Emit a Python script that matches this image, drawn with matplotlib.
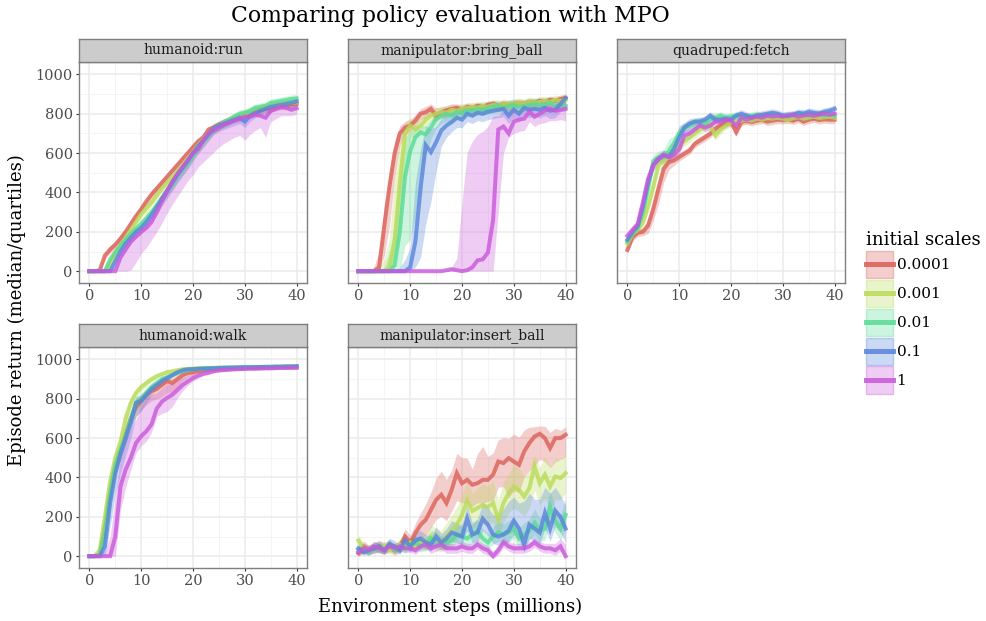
import colorsys
import matplotlib
matplotlib.use("Agg")
import matplotlib.pyplot as plt
from matplotlib.lines import Line2D
from matplotlib.patches import Rectangle
from matplotlib.legend_handler import HandlerBase
from matplotlib.ticker import MultipleLocator
import numpy as np

plt.rcParams['font.family'] = ['DejaVu Serif']

# environment steps (millions)
steps = list(range(41))
scales = ["0.0001", "0.001", "0.01", "0.1", "1"]
tasks = ["humanoid:run", "manipulator:bring_ball", "quadruped:fetch",
         "humanoid:walk", "manipulator:insert_ball"]

# ---- humanoid:run (median, distance to lower quartile, distance to upper quartile)
run_s4 = [0,0,5,80,110,135,165,200,240,280,315,355,390,420,450,480,510,540,570,600,630,660,680,720,730,745,755,765,775,785,795,800,810,820,825,830,835,840,845,848,850]
run_s4_dn = [0,0,5,20,20,25,20,20,25,20,20,25,20,20,25,20,20,25,20,20,25,20,20,25,20,20,25,20,20,25,20,20,25,20,20,25,20,20,25,20,20]
run_s4_up = [0,0,10,15,20,15,20,15,20,15,20,15,20,15,20,15,20,15,20,15,20,15,20,15,20,15,20,15,20,15,20,15,20,15,20,15,20,15,20,15,20]
run_s3 = [0,0,0,0,40,90,130,170,210,250,290,320,350,385,420,450,480,510,540,575,605,640,670,700,720,740,755,765,780,790,800,810,820,830,835,840,845,850,852,855,858]
run_s3_dn = [0,0,0,0,30,25,20,25,20,25,20,25,20,25,20,25,20,25,20,25,20,25,20,25,20,25,20,25,20,25,20,25,20,25,20,25,20,25,20,25,20]
run_s3_up = [0,0,0,10,20,20,20,20,20,20,20,20,20,20,20,20,20,20,20,20,20,20,20,20,20,20,20,20,20,20,20,20,20,20,20,20,20,20,20,20,20]
run_s2 = [0,0,0,0,60,95,130,160,190,215,240,270,300,335,370,405,440,480,515,550,585,625,660,690,720,740,755,770,785,800,805,815,830,835,840,855,860,865,870,875,878]
run_s2_dn = [0,0,0,0,40,30,25,25,20,25,25,30,30,30,30,30,30,30,30,30,30,30,30,30,25,25,25,25,20,25,20,20,20,20,20,20,20,20,20,20,20]
run_s2_up = [0,0,0,20,20,20,20,20,20,20,20,20,20,20,20,20,20,20,20,20,20,20,20,20,20,20,20,20,20,20,20,20,20,20,20,20,20,20,20,20,20]
run_s1 = [0,0,0,0,0,50,100,140,170,200,220,250,285,325,370,410,450,490,525,560,600,635,665,695,725,740,750,760,770,780,760,790,805,815,825,835,840,845,850,855,862]
run_s1_dn = [0,0,0,0,0,40,40,35,30,30,30,30,30,40,40,40,40,40,40,40,35,35,35,30,30,30,30,30,30,30,30,30,25,25,25,25,20,20,20,20,20]
run_s1_up = [0,0,0,0,20,20,20,20,20,20,20,25,25,25,25,25,25,25,25,25,25,25,25,25,25,25,25,25,25,25,40,25,20,20,20,20,20,20,20,20,20]
run_s0 = [0,0,0,0,0,0,70,110,150,175,200,220,250,300,355,405,455,495,530,565,600,620,665,700,715,730,745,755,765,775,785,785,795,790,780,815,825,835,830,820,828]
run_s0_dn = [0,0,0,0,0,0,70,110,145,130,110,100,90,100,110,110,115,115,110,105,110,90,110,120,110,100,95,90,85,85,120,90,80,60,100,55,50,45,40,30,30]
run_s0_up = [0,0,0,0,0,0,10,15,20,20,20,25,25,25,25,25,25,25,25,25,25,30,25,25,25,25,25,25,25,30,30,30,30,30,40,30,30,25,25,30,30]

# ---- manipulator:bring_ball
ball_s4 = [0,0,0,0,20,230,430,600,700,730,740,765,800,808,825,790,808,818,825,830,820,835,830,840,835,845,850,840,850,845,850,855,850,860,855,865,860,870,865,875,880]
ball_s4_dn = [0,0,0,0,20,150,200,120,60,40,30,30,30,30,30,30,30,30,30,30,25,25,25,25,25,25,25,25,25,25,25,25,25,25,25,25,25,25,25,25,25]
ball_s4_up = [0,0,0,20,80,100,80,60,40,30,30,30,25,30,25,40,25,25,25,20,25,20,20,20,20,20,20,20,20,20,20,20,20,20,20,20,20,20,20,20,20]
ball_s3 = [0,0,0,0,0,0,20,150,450,700,740,720,740,770,790,800,810,805,820,815,825,830,835,830,840,835,845,840,850,845,850,855,850,860,855,860,865,860,870,865,870]
ball_s3_dn = [0,0,0,0,0,0,20,100,250,200,60,40,40,40,30,30,30,30,30,30,30,30,30,30,30,30,30,30,30,30,30,30,30,30,30,30,30,30,30,30,30]
ball_s3_up = [0,0,0,0,20,60,150,350,200,60,40,40,40,30,30,30,30,30,30,30,25,25,25,25,25,25,25,25,25,25,25,25,25,25,25,25,25,25,25,25,25]
ball_s2 = [0,0,0,0,0,0,0,30,200,480,610,680,705,695,730,775,790,800,790,810,805,820,815,825,820,830,835,840,830,840,845,835,840,845,850,845,850,855,840,845,840]
ball_s2_dn = [0,0,0,0,0,0,0,30,200,350,450,400,200,100,60,50,40,40,40,40,30,30,30,30,30,30,30,30,30,30,30,30,30,30,30,30,30,30,30,30,30]
ball_s2_up = [0,0,0,0,0,20,100,200,300,200,100,60,40,40,40,30,30,30,30,30,30,30,30,30,30,30,30,30,30,30,30,30,30,30,30,30,30,30,30,30,30]
ball_s1 = [0,0,0,0,0,0,0,0,0,0,20,150,420,640,605,655,715,740,758,780,770,800,790,805,800,810,815,820,825,790,820,800,830,820,825,820,830,815,820,850,880]
ball_s1_dn = [0,0,0,0,0,0,0,0,0,0,20,130,350,400,250,150,80,60,50,50,40,40,40,40,40,40,40,40,40,40,40,40,40,40,40,40,40,40,40,40,40]
ball_s1_up = [0,0,0,0,0,0,0,0,20,60,100,300,200,100,120,80,60,80,50,40,40,30,30,30,30,30,30,30,30,40,30,40,30,30,30,30,30,30,30,30,20]
ball_s0 = [0,0,0,0,0,0,0,0,0,0,0,0,0,0,0,0,0,5,10,5,0,5,20,55,60,95,260,720,735,700,760,770,775,810,785,800,815,825,815,820,825]
ball_s0_dn = [0,0,0,0,0,0,0,0,0,0,0,0,0,0,0,0,0,5,10,5,0,5,20,55,60,95,260,420,135,20,60,60,60,50,50,50,60,60,50,50,60]
ball_s0_up = [0,0,0,0,0,0,0,0,0,0,0,0,0,0,0,0,0,0,10,60,350,600,640,640,650,640,530,70,80,120,60,50,50,30,40,40,30,30,30,30,30]

# ---- quadruped:fetch
fetch_s4 = [108,173,195,200,232,317,420,520,554,563,580,597,613,647,664,681,698,724,740,749,758,707,758,766,758,765,770,760,765,770,768,772,765,775,760,770,775,768,772,770,770]
fetch_s4_dn = [20,20,20,20,40,60,80,70,40,25,20,20,20,20,20,20,20,20,20,20,20,20,20,20,20,20,20,20,20,20,20,20,20,20,20,20,20,20,20,20,20]
fetch_s4_up = [20,20,20,20,30,40,40,40,30,25,20,20,20,20,20,20,20,20,20,20,20,20,20,20,20,20,20,20,20,20,20,20,20,20,20,20,20,20,20,20,20]
fetch_s3 = [140,190,210,250,330,430,540,560,580,610,640,660,680,700,720,735,740,690,720,740,755,760,765,770,765,775,770,778,775,780,775,770,778,782,775,780,785,778,782,785,780]
fetch_s3_dn = [20,20,20,30,30,40,30,30,30,25,25,25,25,25,25,25,25,25,25,20,20,20,20,20,20,20,20,20,20,20,20,20,20,20,20,20,20,20,20,20,20]
fetch_s3_up = [20,20,20,30,30,30,30,30,30,25,25,25,25,25,25,25,25,25,25,20,20,20,20,20,20,20,20,20,20,20,20,20,20,20,20,20,20,20,20,20,20]
fetch_s2 = [150,190,220,300,420,560,580,580,610,650,700,730,740,750,760,750,770,780,790,780,785,790,780,785,790,795,785,790,795,790,785,795,790,795,800,790,795,800,790,795,790]
fetch_s2_dn = [20,20,20,30,30,30,30,30,30,30,30,25,25,25,25,25,25,25,20,20,20,20,20,20,20,20,20,20,20,20,20,20,20,20,20,20,20,20,20,20,20]
fetch_s2_up = [20,20,20,30,30,30,30,40,60,40,30,25,25,25,25,25,25,25,20,20,20,20,20,20,20,20,20,20,20,20,20,20,20,20,20,20,20,20,20,20,20]
fetch_s1 = [160,200,230,330,450,540,570,590,580,620,680,730,750,760,760,770,790,770,770,775,770,790,800,790,780,790,795,800,805,800,790,790,795,805,800,810,805,800,810,815,825]
fetch_s1_dn = [20,20,20,30,30,30,25,25,25,30,30,25,25,20,20,20,20,20,20,20,20,20,20,20,20,20,20,20,20,20,20,20,20,20,20,20,20,20,20,20,20]
fetch_s1_up = [20,20,20,30,30,30,25,25,25,40,60,25,25,20,20,20,20,20,20,20,20,20,20,20,20,20,20,20,20,20,20,20,20,20,20,20,20,20,20,20,20]
fetch_s0 = [180,210,240,350,470,540,570,590,580,590,620,690,700,720,740,730,740,760,760,770,765,740,780,770,780,785,780,790,785,790,785,790,795,785,790,795,790,795,800,795,800]
fetch_s0_dn = [20,20,20,30,30,30,25,25,25,25,30,25,25,20,20,20,20,20,20,20,20,20,20,20,20,20,20,20,20,20,20,20,20,20,20,20,20,20,20,20,20]
fetch_s0_up = [20,20,20,30,30,30,25,25,25,25,30,25,25,20,20,20,20,20,20,20,20,20,20,20,20,20,20,20,20,20,20,20,20,20,20,20,20,20,20,20,20]

# ---- humanoid:walk
walk_s4 = [0,0,10,150,330,460,540,620,700,760,790,820,840,850,870,890,880,900,920,930,935,940,945,948,950,952,953,954,955,955,956,957,957,958,958,959,959,960,960,960,960]
walk_s4_dn = [0,0,10,60,60,50,50,50,50,50,50,50,50,50,60,60,50,40,30,20,15,10,10,10,10,8,8,8,8,8,8,8,8,8,8,8,8,8,8,8,8]
walk_s4_up = [0,0,10,40,40,40,40,40,40,30,30,30,30,30,25,20,25,20,15,12,10,10,8,8,8,8,8,8,8,8,8,8,8,8,8,8,8,8,8,8,8]
walk_s3 = [0,0,30,200,380,500,580,700,780,830,860,880,900,915,925,935,940,945,950,952,954,955,956,957,957,958,958,959,959,960,960,960,961,961,961,962,962,962,963,963,963]
walk_s3_dn = [0,0,30,60,50,40,40,40,30,25,20,20,15,15,12,10,10,8,8,8,8,8,8,8,8,8,8,8,8,8,8,8,8,8,8,8,8,8,8,8,8]
walk_s3_up = [0,0,30,50,40,40,40,30,25,20,15,15,12,10,10,8,8,8,8,8,8,8,8,8,8,8,8,8,8,8,8,8,8,8,8,8,8,8,8,8,8]
walk_s2 = [0,0,5,120,320,460,540,610,700,780,800,830,860,880,900,910,920,930,940,945,950,952,954,955,956,957,958,958,959,960,960,961,961,962,962,962,963,963,964,964,965]
walk_s2_dn = [0,0,5,60,60,50,40,40,40,40,30,30,25,20,15,12,10,10,8,8,8,8,8,8,8,8,8,8,8,8,8,8,8,8,8,8,8,8,8,8,8]
walk_s2_up = [0,0,20,60,50,40,40,40,40,30,30,25,20,15,12,10,10,8,8,8,8,8,8,8,8,8,8,8,8,8,8,8,8,8,8,8,8,8,8,8,8]
walk_s1 = [0,0,0,50,270,420,520,600,680,780,790,820,850,870,890,905,920,935,945,950,950,952,953,954,955,956,957,958,958,959,960,960,961,961,962,962,963,963,964,964,965]
walk_s1_dn = [0,0,0,50,120,110,100,90,80,70,50,40,30,25,20,15,12,10,8,8,8,8,8,8,8,8,8,8,8,8,8,8,8,8,8,8,8,8,8,8,8]
walk_s1_up = [0,0,10,60,60,50,40,40,40,30,30,25,20,15,12,10,10,8,8,8,8,8,8,8,8,8,8,8,8,8,8,8,8,8,8,8,8,8,8,8,8]
walk_s0 = [0,0,0,0,0,100,354,440,500,575,610,635,670,750,785,805,820,845,870,888,905,917,927,933,940,944,946,948,950,951,952,953,953,954,955,955,956,957,957,958,958]
walk_s0_dn = [0,0,0,0,0,100,120,90,60,50,50,50,40,40,60,70,60,40,30,20,15,12,10,10,8,8,8,8,8,8,8,8,8,8,8,8,8,8,8,8,8]
walk_s0_up = [0,0,0,30,100,200,150,150,150,120,150,170,150,80,70,70,60,50,40,30,25,20,15,12,10,10,8,8,8,8,8,8,8,8,8,8,8,8,8,8,8]

# ---- manipulator:insert_ball
ins_s4 = [15,49,32,40,49,40,52,29,49,100,66,117,159,185,235,286,312,270,337,422,371,388,363,371,388,388,414,481,473,498,481,464,532,575,608,622,600,549,600,600,617]
ins_s4_dn = [20,30,25,25,30,30,30,25,30,50,40,60,70,80,90,100,110,90,110,140,100,120,110,100,120,110,130,130,120,200,150,140,130,140,150,130,120,100,120,110,110]
ins_s4_up = [20,30,25,25,30,30,30,25,30,40,40,50,60,80,90,110,120,120,100,100,130,110,80,150,170,120,110,110,130,100,140,140,110,80,50,40,60,80,50,40,40]
ins_s3 = [80,40,30,50,40,50,30,40,60,50,70,50,70,60,100,80,70,100,130,160,210,280,230,245,260,250,270,185,270,320,354,337,303,346,456,371,414,354,405,397,422]
ins_s3_dn = [30,25,20,25,25,25,20,25,30,30,30,30,35,35,50,50,50,60,70,80,90,90,90,90,100,90,100,90,100,100,110,110,100,100,120,110,120,110,120,110,100]
ins_s3_up = [30,25,20,25,25,25,20,25,30,30,30,30,35,40,60,60,60,70,80,90,100,100,90,100,110,100,120,100,110,100,110,110,100,90,60,80,90,100,90,90,100]
ins_s2 = [30,40,20,50,40,30,60,30,50,40,60,70,50,60,90,80,60,70,80,110,100,90,110,130,90,70,100,120,110,120,140,90,110,130,170,130,140,250,180,140,210]
ins_s2_dn = [20,25,20,25,25,20,25,20,25,25,30,30,30,30,35,35,30,35,35,40,40,40,45,45,40,35,40,45,45,50,50,45,50,50,60,55,60,70,60,60,70]
ins_s2_up = [25,25,25,25,25,25,30,25,30,30,30,35,35,35,40,45,40,45,45,50,50,50,55,55,50,45,50,55,55,60,60,55,60,60,70,65,70,80,70,70,80]
ins_s1 = [40,20,30,40,50,30,60,50,30,80,50,80,90,70,60,100,70,90,120,110,100,190,110,120,190,160,110,100,110,130,180,140,60,160,140,120,220,140,230,200,140]
ins_s1_dn = [20,15,20,25,25,20,25,25,20,30,30,35,35,35,35,40,35,40,45,45,40,60,45,45,60,55,45,45,50,55,70,60,40,70,65,60,80,65,80,80,70]
ins_s1_up = [25,20,25,25,30,25,30,30,25,35,40,40,40,40,40,50,45,50,60,60,60,70,60,70,80,90,100,110,130,150,120,130,220,160,150,170,130,180,120,110,120]
ins_s0 = [20,40,30,50,40,30,50,40,50,40,40,30,50,60,40,50,60,40,40,40,50,40,40,60,40,30,0,30,70,50,40,40,40,50,70,50,40,40,30,50,0]
ins_s0_dn = [15,20,20,20,20,20,20,20,20,20,20,20,20,20,25,25,25,25,25,25,25,25,25,25,25,25,10,25,25,25,25,25,25,25,25,25,25,25,25,25,10]
ins_s0_up = [20,25,25,25,25,25,25,25,25,25,25,25,25,25,25,25,25,25,25,25,25,25,25,25,25,25,25,25,25,25,25,25,25,25,25,25,25,25,35,40,60]

panel_data = {
    "humanoid:run": [(run_s4, run_s4_dn, run_s4_up), (run_s3, run_s3_dn, run_s3_up),
                     (run_s2, run_s2_dn, run_s2_up), (run_s1, run_s1_dn, run_s1_up),
                     (run_s0, run_s0_dn, run_s0_up)],
    "manipulator:bring_ball": [(ball_s4, ball_s4_dn, ball_s4_up), (ball_s3, ball_s3_dn, ball_s3_up),
                               (ball_s2, ball_s2_dn, ball_s2_up), (ball_s1, ball_s1_dn, ball_s1_up),
                               (ball_s0, ball_s0_dn, ball_s0_up)],
    "quadruped:fetch": [(fetch_s4, fetch_s4_dn, fetch_s4_up), (fetch_s3, fetch_s3_dn, fetch_s3_up),
                        (fetch_s2, fetch_s2_dn, fetch_s2_up), (fetch_s1, fetch_s1_dn, fetch_s1_up),
                        (fetch_s0, fetch_s0_dn, fetch_s0_up)],
    "humanoid:walk": [(walk_s4, walk_s4_dn, walk_s4_up), (walk_s3, walk_s3_dn, walk_s3_up),
                      (walk_s2, walk_s2_dn, walk_s2_up), (walk_s1, walk_s1_dn, walk_s1_up),
                      (walk_s0, walk_s0_dn, walk_s0_up)],
    "manipulator:insert_ball": [(ins_s4, ins_s4_dn, ins_s4_up), (ins_s3, ins_s3_dn, ins_s3_up),
                                (ins_s2, ins_s2_dn, ins_s2_up), (ins_s1, ins_s1_dn, ins_s1_up),
                                (ins_s0, ins_s0_dn, ins_s0_up)],
}

# ggplot-like hue palette
colors = [colorsys.hls_to_rgb(0.01 + i / 5.0, 0.6, 0.65) for i in range(5)]


class RibbonKey:
    """legend key: ribbon square with the median line through the middle"""
    def __init__(self, color):
        self.color = color


class RibbonKeyHandler(HandlerBase):
    def create_artists(self, legend, orig_handle, xdescent, ydescent,
                       width, height, fontsize, trans):
        col = orig_handle.color
        rect = Rectangle((-xdescent, -ydescent), width, height,
                         facecolor=(*col, 0.3), edgecolor=(*col, 0.35),
                         lw=1.0, transform=trans)
        yc = -ydescent + height / 2
        line = Line2D([-xdescent, -xdescent + width], [yc, yc], color=col,
                      lw=3.6, alpha=0.85, transform=trans)
        return [rect, line]


W, H = 987, 621
fig = plt.figure(figsize=(W / 100, H / 100), dpi=100)

col_left = [79, 348, 617]
row_top = [62, 347]
pw, ph, sh = 228, 221, 23
spine_col = "#7f7f7f"

x = np.array(steps)
for k, task in enumerate(tasks):
    r, c = divmod(k, 3)
    l, t = col_left[c], row_top[r]
    ax = fig.add_axes([l / W, 1 - (t + ph) / H, pw / W, ph / H])
    sax = fig.add_axes([l / W, 1 - t / H, pw / W, sh / H])

    # ribbons first, then lines (like ggplot layers)
    for i, (med, dn, up) in enumerate(panel_data[task]):
        med = np.array(med, dtype=float)
        ax.fill_between(x, med - np.array(dn), med + np.array(up),
                        color=colors[i], alpha=0.3, lw=0)
    for i, (med, dn, up) in enumerate(panel_data[task]):
        ax.plot(x, med, color=colors[i], lw=2.9, alpha=0.8, solid_joinstyle="miter")

    ax.set_xlim(-2, 42)
    ax.set_ylim(-60, 1063)
    ax.xaxis.set_major_locator(MultipleLocator(10))
    ax.xaxis.set_minor_locator(MultipleLocator(5))
    ax.yaxis.set_major_locator(MultipleLocator(200))
    ax.yaxis.set_minor_locator(MultipleLocator(100))
    ax.grid(True, which="major", color="#ebebeb", lw=1.1)
    ax.grid(True, which="minor", color="#f2f2f2", lw=0.6)
    ax.set_axisbelow(True)
    ax.tick_params(which="major", length=2.5, width=0.8, color="#333333",
                   labelsize=10.5, labelcolor="#4d4d4d", pad=2)
    ax.tick_params(which="minor", length=0)
    if c != 0:
        ax.tick_params(axis="y", labelleft=False, length=0)
    for sp in ax.spines.values():
        sp.set_color(spine_col)
        sp.set_linewidth(1.0)

    sax.set_facecolor("#cccccc")
    sax.set_xticks([])
    sax.set_yticks([])
    for sp in sax.spines.values():
        sp.set_color(spine_col)
        sp.set_linewidth(1.0)
    sax.text(0.5, 0.5, task, ha="center", va="center", fontsize=10,
             color="#1a1a1a", transform=sax.transAxes)

fig.text(450 / W, 1 - 16 / H, "Comparing policy evaluation with MPO",
         ha="center", va="center", fontsize=15.8)
fig.text(450 / W, 1 - 607 / H, "Environment steps (millions)",
         ha="center", va="center", fontsize=13)
fig.text(17 / W, 1 - 310 / H, "Episode return (median/quartiles)",
         ha="center", va="center", rotation=90, fontsize=13)

handles = [RibbonKey(col) for col in colors]
leg = fig.legend(handles, scales, title="initial scales", loc="upper left",
                 bbox_to_anchor=(866 / W, 1 - 231 / H), frameon=False,
                 fontsize=11, title_fontsize=13, handlelength=1.75,
                 handleheight=2.35, labelspacing=0.12, handletextpad=0.25,
                 borderaxespad=0, borderpad=0, alignment="left",
                 handler_map={RibbonKey: RibbonKeyHandler()})

fig.savefig("out.png", dpi=100)
